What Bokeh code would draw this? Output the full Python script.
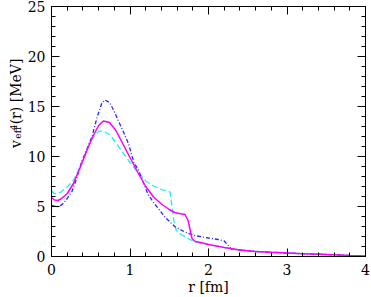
import math
from bokeh.plotting import figure
from bokeh.models import LinearAxis, FixedTicker, Range1d
from bokeh.layouts import row
from bokeh.core.properties import value
from bokeh.embed import file_html
from bokeh.resources import INLINE

# --- data ---
r_mag = [0, 0.04, 0.08, 0.12, 0.2, 0.28, 0.36, 0.44, 0.52, 0.6, 0.66, 0.74, 0.82, 0.9, 1.0, 1.1, 1.2, 1.3, 1.4, 1.5, 1.57, 1.63, 1.70, 1.74, 1.79, 1.83, 1.9, 2.0, 2.2, 2.4, 2.6, 2.8, 3.0, 3.2, 3.5, 3.8, 4.0]
v_mag = [5.9, 5.65, 5.6, 5.75, 6.3, 7.3, 8.8, 10.4, 11.9, 13.1, 13.55, 13.4, 12.6, 11.4, 9.9, 8.4, 7.0, 5.95, 5.25, 4.7, 4.4, 4.3, 4.2, 3.6, 1.8, 1.5, 1.4, 1.2, 0.9, 0.65, 0.5, 0.42, 0.35, 0.28, 0.2, 0.1, 0.05]

r_cyan = [0, 0.03, 0.07, 0.12, 0.2, 0.28, 0.36, 0.44, 0.52, 0.58, 0.62, 0.68, 0.74, 0.8, 0.9, 1.0, 1.1, 1.2, 1.3, 1.4, 1.46, 1.51, 1.53, 1.56, 1.59, 1.65, 1.74, 1.8, 1.9, 2.0, 2.2, 2.4, 2.6, 2.8, 3.0, 3.2, 3.5, 3.8, 4.0]
v_cyan = [6.6, 6.3, 6.3, 6.45, 6.95, 7.6, 8.9, 10.4, 11.8, 12.4, 12.55, 12.45, 12.2, 11.6, 10.5, 9.4, 8.4, 7.55, 7.05, 6.7, 6.55, 6.45, 5.3, 3.5, 2.6, 2.2, 1.8, 1.55, 1.35, 1.2, 0.9, 0.65, 0.5, 0.42, 0.35, 0.28, 0.2, 0.1, 0.05]

r_blue = [0, 0.05, 0.1, 0.15, 0.2, 0.26, 0.32, 0.39, 0.46, 0.52, 0.58, 0.64, 0.68, 0.74, 0.8, 0.85, 0.92, 0.98, 1.05, 1.11, 1.17, 1.23, 1.3, 1.36, 1.45, 1.57, 1.7, 1.82, 2.0, 2.12, 2.2, 2.24, 2.29, 2.4, 2.6, 2.8, 3.0, 3.2, 3.5, 3.8, 4.0]
v_blue = [5.1, 5.0, 5.0, 5.3, 5.8, 6.5, 7.8, 9.6, 10.9, 12.1, 13.9, 15.3, 15.65, 15.4, 14.5, 13.6, 12.4, 11.3, 9.4, 8.6, 7.4, 6.2, 5.4, 4.8, 3.9, 3.0, 2.45, 2.1, 1.85, 1.7, 1.55, 1.2, 0.75, 0.65, 0.5, 0.42, 0.35, 0.28, 0.2, 0.1, 0.05]

x_ticks = [0, 1, 2, 3, 4]
y_ticks = [0, 5, 10, 15, 20, 25]
x_minor = [round(0.2 * i, 2) for i in range(21)]
y_minor = list(range(26))

y_label_parts = ["v", "eff", "4", "(r) [MeV]"]

FONT = "DejaVu Serif"
W, H = 371, 297
LW = 24                      # width of the strip holding the rotated y label
BL, BR, BT, BB = 25, 6, 6, 41

# ---------------- main plot ----------------
p = figure(width=W - LW, height=H, output_backend="svg", toolbar_location=None,
           x_range=Range1d(0, 4), y_range=Range1d(0, 25),
           min_border_left=BL, min_border_right=BR, min_border_top=BT, min_border_bottom=BB)
p.grid.visible = False
p.outline_line_color = "black"
p.background_fill_color = "white"
p.border_fill_color = "white"


def style_axis(ax, ticks, minor):
    ax.ticker = FixedTicker(ticks=ticks, minor_ticks=minor)
    ax.major_tick_in = 8
    ax.major_tick_out = 0
    ax.minor_tick_in = 4
    ax.minor_tick_out = 0
    ax.axis_line_color = "black"
    ax.major_tick_line_color = "black"
    ax.minor_tick_line_color = "black"
    ax.major_label_text_font = FONT
    ax.major_label_text_font_size = "14px"
    ax.major_label_text_color = "black"


def tick_only_axis(positions, length):
    ax = LinearAxis(ticker=FixedTicker(ticks=[], minor_ticks=positions))
    ax.major_tick_in = 0
    ax.major_tick_out = 0
    ax.minor_tick_in = length
    ax.minor_tick_out = 0
    ax.minor_tick_line_color = "black"
    ax.axis_line_color = "black"
    ax.major_label_standoff = 0
    return ax


style_axis(p.xaxis[0], x_ticks, x_minor)
style_axis(p.yaxis[0], y_ticks, y_minor)
p.xaxis[0].major_label_standoff = 7
p.yaxis[0].major_label_standoff = 6
p.xaxis[0].axis_label = "r [fm]"
p.xaxis[0].axis_label_text_font = FONT
p.xaxis[0].axis_label_text_font_size = "14px"
p.xaxis[0].axis_label_text_font_style = "normal"
p.xaxis[0].axis_label_text_color = "black"
p.xaxis[0].axis_label_standoff = 1

p.add_layout(tick_only_axis(x_ticks, 8), "above")
p.add_layout(tick_only_axis(x_minor, 4), "above")
p.add_layout(tick_only_axis(y_ticks, 8), "right")
p.add_layout(tick_only_axis(y_minor, 4), "right")

p.line(r_cyan, v_cyan, line_color="#22eeee", line_width=1.3, line_dash="6 3")
p.line(r_blue, v_blue, line_color="#2828ff", line_width=1.3, line_dash="4 2 1 2")
p.line(r_mag, v_mag, line_color="#ff00ff", line_width=1.5)

# ---------------- y-label strip (pixel coordinates) ----------------
lab = figure(width=LW, height=H, output_backend="svg", toolbar_location=None,
             x_range=Range1d(0, LW), y_range=Range1d(0, H),
             min_border_left=0, min_border_right=0, min_border_top=0, min_border_bottom=0)
lab.axis.visible = False
lab.grid.visible = False
lab.outline_line_color = None
lab.background_fill_color = "white"
lab.border_fill_color = "white"

# (text, font size, baseline x, start y) in strip pixels, y measured from bottom
layout_spec = [(14, 15.5, 129), (9, 17.0, 140), (9, 12.5, 150), (14, 15.5, 157)]
for txt, (fs, xx, yy) in zip(y_label_parts, layout_spec):
    lab.text(x=[xx], y=[yy], text=[txt], angle=math.pi / 2,
             text_font=value(FONT), text_font_size=value(f"{fs}px"),
             text_align="left", text_baseline="alphabetic", text_color="black")

layout = row(lab, p, spacing=0)
open("out.html", "w").write(file_html(layout, INLINE))
